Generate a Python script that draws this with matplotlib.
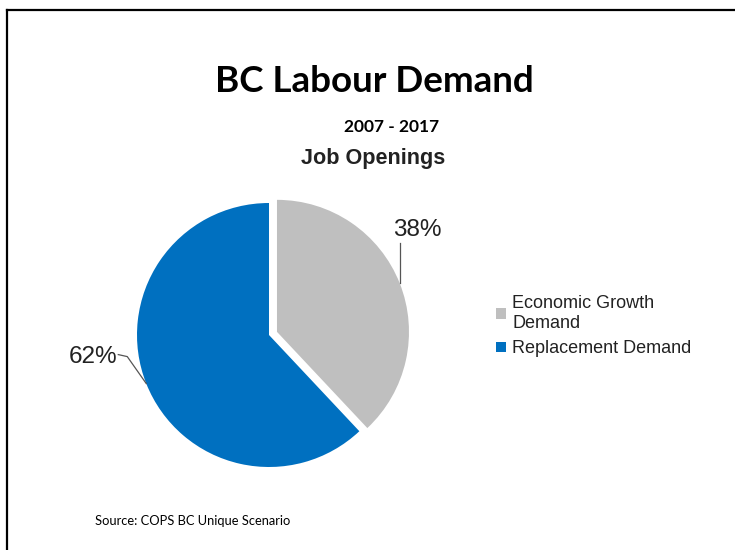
import numpy as np
import matplotlib.pyplot as plt
from matplotlib.lines import Line2D

categories = ["Economic Growth\nDemand", "Replacement Demand"]
shares = [38, 62]
colors = ["#BFBFBF", "#0070C0"]

W, H = 735, 550
fig = plt.figure(figsize=(W / 100, H / 100), dpi=100)
fig.patch.set_facecolor("white")

# page frame (left and top edges)
fig.add_artist(Line2D([7.5 / W, 7.5 / W], [0, 1 - 10 / H], color="black", lw=1.6))
fig.add_artist(Line2D([7.5 / W, 1], [1 - 10 / H, 1 - 10 / H], color="black", lw=1.6))

fig.text(374 / W, 1 - 81 / H, "BC Labour Demand", ha="center", va="center",
         fontsize=26.5, fontweight="bold", family="Lato")
fig.text(392 / W, 1 - 127 / H, "2007 - 2017", ha="center", va="center",
         fontsize=12.5, fontweight="bold", family="Lato")
fig.text(373 / W, 1 - 158 / H, "Job Openings", ha="center", va="center",
         fontsize=15.6, fontweight="bold", family="Liberation Sans", color="#222222")
fig.text(95 / W, 1 - 521 / H, "Source: COPS BC Unique Scenario", ha="left", va="center",
         fontsize=9.3, family="Lato")

# pie axes: radius 1 = 132 px, centre at (269, 335)
R = 132
cx, cy = 269, 335
ax = fig.add_axes([(cx - 1.5 * R) / W, (H - cy - 1.5 * R) / H, 3 * R / W, 3 * R / H])

explode = [0.065, 0]
wedges, _ = ax.pie(shares, colors=colors, startangle=90, counterclock=False,
                   explode=explode, radius=1,
                   wedgeprops=dict(edgecolor="white", linewidth=0))
ax.set_xlim(-1.5, 1.5)
ax.set_ylim(-1.5, 1.5)
ax.axis("off")

# percentage labels with leader lines
total = sum(shares)
for i, (w, v) in enumerate(zip(wedges, shares)):
    mid = np.deg2rad((w.theta1 + w.theta2) / 2)
    r = 1 + explode[i]
    ex, ey = r * np.cos(mid), r * np.sin(mid)
    label = f"{round(100 * v / total)}%"
    if np.cos(mid) > 0:
        ax.plot([ex, ex], [ey, ey + 40 / R], color="#555555", lw=0.9)
        ax.text(ex + 18 / R, ey + 53 / R, label, ha="center", va="center",
                fontsize=17.5, family="Liberation Sans", color="#222222")
    else:
        kx, ky = ex - 19 / R, ey + 27 / R
        ax.plot([ex, kx, kx - 9 / R], [ey, ky, ky + 2 / R], color="#555555", lw=0.9)
        ax.text(kx - 10 / R, ky, label, ha="right", va="center",
                fontsize=17.5, family="Liberation Sans", color="#222222")

fig.legend(wedges, categories, loc="upper left", bbox_to_anchor=(487 / W, 1 - 286 / H),
           frameon=False, handlelength=0.55, handleheight=0.55,
           handletextpad=0.35, labelspacing=0.45, borderpad=0,
           prop=dict(family="Liberation Sans", size=13))
for t in fig.legends[0].get_texts():
    t.set_linespacing(1.25)
    t.set_color("#222222")

fig.savefig("out.png", dpi=100)
